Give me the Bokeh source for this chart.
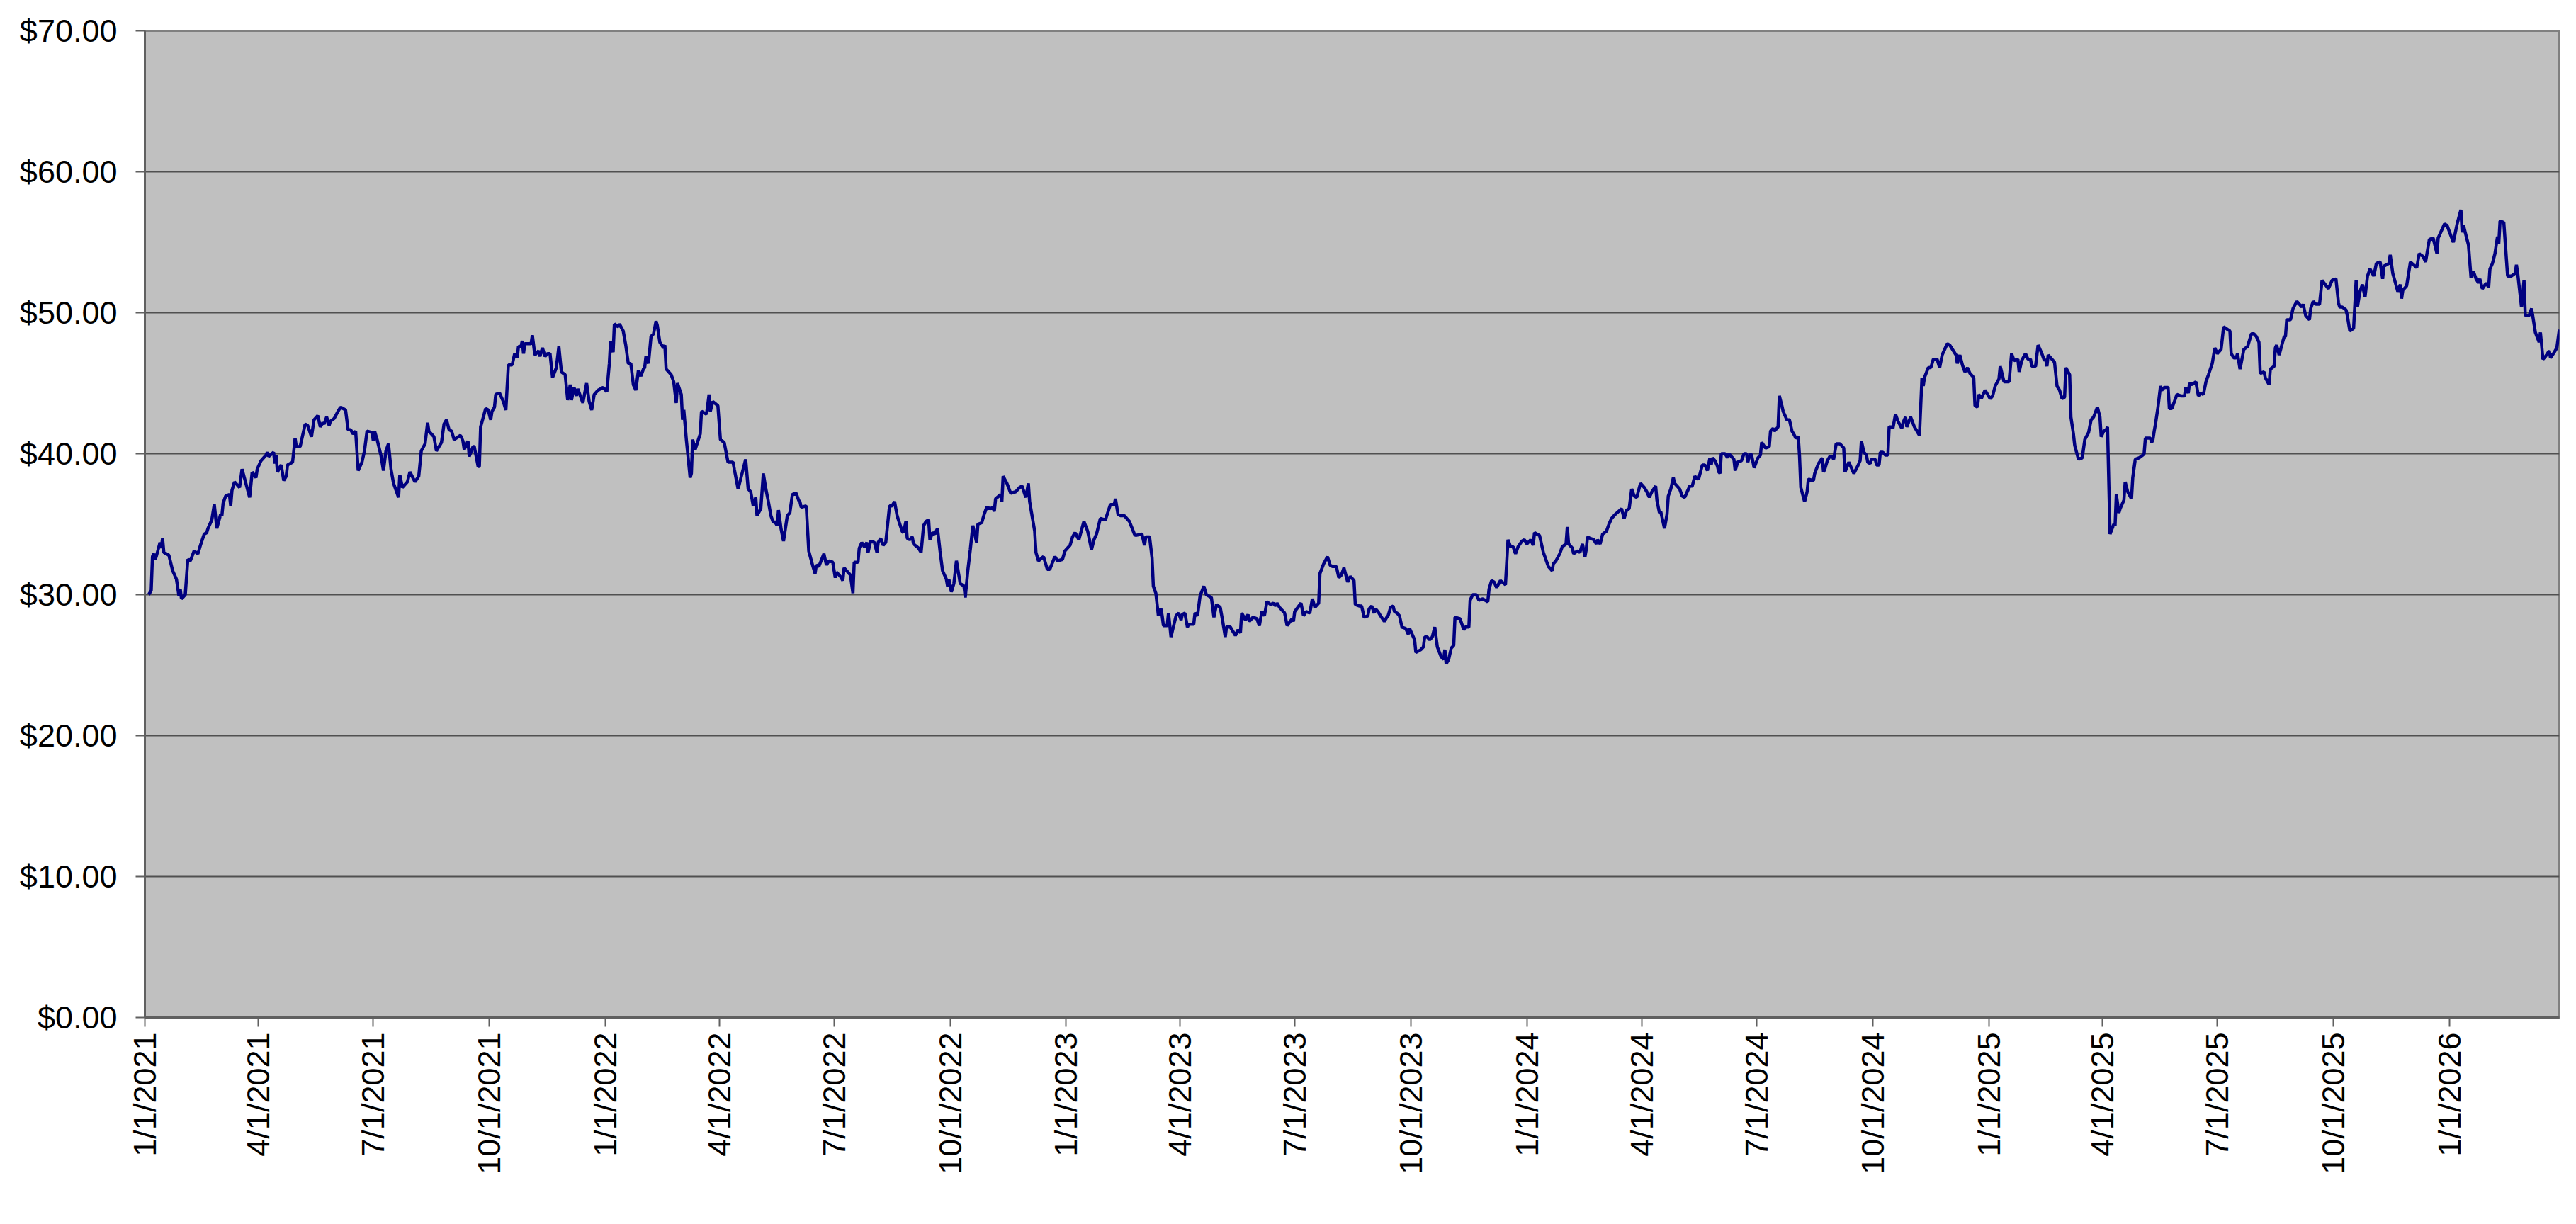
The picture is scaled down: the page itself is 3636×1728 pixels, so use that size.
import math
import pandas as pd
from bokeh.plotting import figure
from bokeh.models import Range1d, FixedTicker, DatetimeTickFormatter, NumeralTickFormatter
from bokeh.embed import file_html
from bokeh.resources import INLINE

# ---------------- data ----------------
START_DATE = "2021-01-01"   # day 0 of the series

# days since START_DATE / closing price, one pair of lists per period
days_a = [3, 5, 6, 7, 8, 9, 12, 13, 14, 15,
          19, 22, 25, 27, 28, 29, 32, 34, 36, 39,
          42, 44, 47, 49, 50, 53, 55, 57, 60, 61,
          62, 64, 67, 68, 69, 71, 75, 77, 80, 83,
          85, 88, 89, 92, 96, 97, 98, 102, 103, 104,
          105, 108, 110, 112, 113, 117, 118, 119, 120, 123,
          127, 129, 132, 134, 137, 139, 141, 142, 144, 146,
          147, 150, 153, 155, 159, 161, 163, 165, 167, 169,
          172, 174, 176, 180, 181, 182, 184, 187, 189, 191,
          193, 195, 197, 201, 202, 204, 208, 210, 214, 217,
          219, 222, 224, 225, 229, 231, 235, 237, 239, 241]
price_a = [30.0, 30.3, 32.7, 32.9, 32.5, 32.7, 33.7, 33.3, 34.0, 33.0,
           32.8, 31.7, 31.1, 29.9, 30.4, 29.7, 30.0, 32.5, 32.4, 33.1,
           32.9, 33.5, 34.3, 34.4, 34.7, 35.3, 36.4, 34.7, 35.7, 35.6,
           36.5, 37.0, 37.1, 36.3, 37.4, 38.0, 37.6, 38.9, 37.9, 36.9,
           38.7, 38.3, 38.9, 39.5, 39.9, 40.1, 39.8, 40.1, 39.3, 39.9,
           38.7, 39.2, 38.1, 38.4, 39.2, 39.4, 40.2, 41.1, 40.5, 40.5,
           42.1, 42.0, 41.2, 42.4, 42.7, 41.9, 42.2, 42.1, 42.6, 42.0,
           42.3, 42.5, 43.0, 43.3, 43.1, 41.7, 41.7, 41.4, 41.6, 38.8,
           39.4, 40.2, 41.6, 41.5, 40.9, 41.6, 41.0, 39.9, 38.8, 40.2,
           40.7, 38.9, 37.9, 36.9, 38.5, 37.6, 38.0, 38.7, 38.0, 38.4,
           40.2, 40.7, 42.2, 41.6, 41.2, 40.2, 40.8, 42.1, 42.4, 41.7]

days_b = [243, 245, 250, 252, 253, 256, 257, 260, 261, 264,
          265, 266, 270, 272, 274, 275, 277, 278, 281, 284,
          286, 288, 291, 293, 295, 296, 298, 299, 300, 301,
          306, 307, 309, 312, 313, 315, 317, 319, 321, 323,
          326, 328, 330, 333, 335, 337, 338, 340, 342, 343,
          345, 347, 350, 352, 354, 356, 359, 363, 366, 368,
          369, 371, 372, 375, 376, 379, 381, 383, 385, 387,
          389, 391, 393, 395, 396, 397, 399, 401, 403, 405,
          406, 408, 411, 412, 413, 417, 419, 421, 422, 425,
          426, 427, 429, 432, 433, 434, 436, 440, 441, 445,
          447, 448, 450, 454, 456, 459, 462, 464, 466, 467,
          470, 476, 478, 480]
price_b = [41.6, 41.0, 41.3, 40.9, 40.3, 40.9, 39.8, 40.5, 40.5, 39.1,
           39.1, 41.9, 43.2, 43.1, 42.4, 43.0, 43.3, 44.2, 44.3, 43.7,
           43.1, 46.3, 46.3, 47.1, 46.8, 47.6, 47.6, 48.0, 47.1, 47.8,
           47.8, 48.4, 47.0, 47.3, 46.9, 47.5, 46.9, 47.1, 47.1, 45.4,
           46.1, 47.6, 45.8, 45.6, 43.8, 44.9, 43.8, 44.7, 44.1, 44.6,
           44.1, 43.6, 45.0, 43.7, 43.1, 44.2, 44.5, 44.7, 44.4, 46.4,
           48.0, 47.2, 49.2, 49.0, 49.2, 48.7, 47.7, 46.4, 46.4, 44.9,
           44.5, 45.9, 45.5, 46.0, 46.1, 46.9, 46.4, 48.3, 48.5, 49.4,
           49.1, 47.9, 47.5, 47.7, 46.0, 45.6, 45.1, 43.6, 45.0, 44.2,
           42.4, 43.1, 41.0, 38.3, 38.6, 41.0, 40.3, 41.4, 43.0, 42.8,
           44.2, 43.0, 43.7, 43.4, 41.0, 40.8, 39.4, 39.4, 39.4, 38.9,
           37.5, 39.6, 37.5, 37.3]

days_c = [482, 484, 485, 488, 490, 492, 494, 496, 498, 499,
          501, 502, 504, 506, 509, 511, 513, 516, 518, 519,
          520, 524, 526, 529, 531, 532, 534, 538, 540, 542,
          545, 547, 548, 551, 553, 554, 559, 561, 562, 565,
          566, 568, 570, 572, 573, 575, 578, 580, 581, 583,
          585, 587, 590, 592, 594, 596, 600, 601, 603, 604,
          606, 608, 609, 613, 615, 617, 619, 621, 622, 624,
          626, 628, 630, 632, 635, 636, 637, 639, 641, 643,
          646, 649, 650, 652, 654, 656, 658, 659, 660, 663,
          665, 667, 670, 672, 673, 674, 678, 679, 680, 683,
          686, 690, 693, 695, 698, 700, 701, 705, 706, 708,
          712, 715, 717, 721, 723]
price_c = [36.3, 36.9, 35.6, 36.1, 38.6, 37.5, 36.6, 35.6, 35.1, 35.2,
           34.9, 36.0, 34.7, 33.8, 35.6, 35.8, 37.1, 37.2, 36.7, 36.6,
           36.2, 36.3, 33.1, 32.1, 31.5, 32.1, 32.0, 32.9, 32.1, 32.4,
           32.3, 31.2, 31.6, 31.3, 31.0, 31.9, 31.4, 30.1, 32.3, 32.3,
           33.3, 33.7, 33.4, 33.7, 33.0, 33.8, 33.7, 33.0, 33.7, 34.0,
           33.5, 33.7, 36.3, 36.3, 36.6, 35.6, 34.5, 34.4, 35.2, 34.0,
           33.9, 34.1, 33.6, 33.3, 33.0, 34.9, 35.2, 35.3, 33.9, 34.4,
           34.3, 34.7, 33.1, 31.7, 31.1, 30.6, 31.1, 30.2, 30.8, 32.4,
           30.8, 30.6, 29.8, 31.7, 33.2, 34.9, 34.1, 33.7, 35.0, 35.1,
           35.7, 36.2, 36.1, 36.2, 35.9, 36.8, 37.1, 36.6, 38.4, 37.9,
           37.2, 37.3, 37.6, 37.7, 36.9, 37.9, 36.6, 34.5, 33.0, 32.4,
           32.7, 31.8, 31.8, 32.7, 32.4]

days_d = [727, 729, 733, 735, 737, 740, 744, 747, 750, 752,
          754, 757, 761, 765, 768, 769, 771, 773, 776, 780,
          784, 785, 790, 792, 793, 796, 798, 799, 801, 803,
          805, 806, 807, 810, 811, 813, 814, 817, 819, 821,
          822, 824, 826, 827, 831, 832, 834, 836, 839, 841,
          845, 847, 849, 852, 854, 856, 857, 860, 864, 866,
          868, 869, 872, 874, 875, 878, 881, 883, 885, 887,
          889, 892, 894, 896, 897, 899, 903, 905, 909, 910,
          911, 916, 918, 920, 923, 925, 927, 930, 931, 934,
          937, 939, 941, 944, 946, 948, 950, 953, 955, 958,
          959, 962, 964, 966]
price_d = [32.5, 33.1, 33.5, 34.1, 34.4, 33.9, 35.2, 34.5, 33.2, 33.9,
           34.3, 35.4, 35.3, 36.4, 36.4, 36.8, 35.7, 35.6, 35.6, 35.2,
           34.3, 34.2, 34.3, 33.5, 34.1, 34.1, 32.6, 30.6, 30.1, 28.5,
           29.0, 28.5, 27.8, 27.8, 28.7, 27.0, 27.4, 28.5, 28.7, 28.2,
           28.6, 28.7, 27.7, 27.9, 27.9, 28.7, 28.5, 29.9, 30.6, 30.0,
           29.8, 28.4, 29.3, 29.1, 28.1, 27.0, 27.7, 27.7, 27.1, 27.5,
           27.3, 28.7, 28.2, 28.6, 28.1, 28.4, 28.3, 27.8, 28.8, 28.5,
           29.5, 29.3, 29.4, 29.2, 29.4, 29.1, 28.7, 27.8, 28.3, 28.1,
           28.8, 29.4, 28.5, 28.8, 28.7, 29.7, 29.1, 29.4, 31.5, 32.2,
           32.7, 32.1, 32.0, 32.0, 31.2, 31.4, 31.9, 30.9, 31.3, 31.0,
           29.3, 29.2, 29.2, 28.4]

days_e = [969, 970, 972, 974, 975, 977, 979, 982, 984, 985,
          987, 989, 990, 992, 994, 996, 999, 1001, 1002, 1006,
          1007, 1011, 1013, 1014, 1016, 1018, 1020, 1022, 1024, 1027,
          1029, 1030, 1031, 1033, 1035, 1037, 1038, 1042, 1045, 1046,
          1049, 1050, 1052, 1055, 1057, 1060, 1064, 1065, 1067, 1069,
          1071, 1074, 1078, 1080, 1082, 1084, 1086, 1088, 1091, 1093,
          1095, 1098, 1100, 1101, 1105, 1108, 1110, 1112, 1115, 1116,
          1118, 1121, 1123, 1126, 1127, 1128, 1131, 1132, 1135, 1137,
          1139, 1141, 1142, 1143, 1145, 1148, 1150, 1151, 1153, 1155,
          1158, 1160, 1162, 1165, 1170, 1172, 1174, 1176, 1178, 1180,
          1182, 1185, 1188, 1190, 1192, 1194, 1197, 1198, 1200, 1201,
          1204, 1206, 1207]
price_e = [28.5, 29.0, 29.2, 28.7, 29.0, 28.8, 28.5, 28.1, 28.4, 28.5,
           29.1, 29.2, 28.8, 28.7, 28.5, 27.7, 27.6, 27.2, 27.6, 26.8,
           25.9, 26.1, 26.3, 27.0, 27.0, 26.8, 27.0, 27.7, 26.3, 25.6,
           25.4, 26.1, 25.1, 25.4, 26.2, 26.4, 28.4, 28.3, 27.5, 27.7,
           27.7, 29.6, 30.0, 30.0, 29.6, 29.7, 29.5, 30.4, 31.0, 30.9,
           30.5, 31.0, 30.7, 33.9, 33.4, 33.4, 32.9, 33.4, 33.8, 33.9,
           33.6, 33.9, 33.5, 34.4, 34.2, 33.0, 32.5, 32.0, 31.7, 32.2,
           32.4, 32.9, 33.4, 33.6, 34.8, 33.6, 33.3, 32.9, 33.1, 33.0,
           33.6, 32.7, 33.2, 34.1, 34.0, 33.9, 33.6, 33.9, 33.6, 34.3,
           34.5, 35.0, 35.4, 35.7, 36.1, 35.4, 36.0, 36.1, 37.5, 37.0,
           36.9, 37.9, 37.6, 37.3, 36.9, 37.3, 37.7, 36.7, 35.8, 35.9,
           34.7, 35.7, 37.0]

days_f = [1209, 1211, 1212, 1214, 1216, 1218, 1220, 1222, 1224, 1226,
          1228, 1229, 1231, 1234, 1236, 1238, 1240, 1241, 1242, 1244,
          1246, 1247, 1248, 1249, 1252, 1254, 1255, 1258, 1259, 1260,
          1262, 1265, 1267, 1269, 1270, 1272, 1273, 1275, 1278, 1280,
          1281, 1284, 1287, 1288, 1290, 1291, 1294, 1295, 1297, 1298,
          1301, 1303, 1305, 1307, 1308, 1310, 1311, 1312, 1315, 1317,
          1318, 1322, 1323, 1326, 1329, 1330, 1331, 1333, 1335, 1337,
          1338, 1340, 1343, 1346, 1347, 1350, 1352, 1354, 1357, 1359,
          1360, 1362, 1364, 1365, 1367, 1368, 1371, 1372, 1374, 1375,
          1377, 1379, 1381, 1382, 1384, 1385, 1387, 1389, 1392, 1393,
          1395, 1396, 1399, 1402, 1404, 1406, 1408, 1409, 1410, 1413,
          1415, 1417, 1420, 1422, 1424, 1426, 1428, 1430, 1435, 1436,
          1438, 1440, 1442, 1444]
price_f = [37.5, 38.3, 37.9, 37.7, 37.5, 37.0, 36.9, 37.3, 37.7, 37.7,
           38.4, 38.3, 38.2, 39.2, 39.2, 38.8, 39.7, 39.2, 39.7, 39.5,
           39.1, 38.7, 38.6, 40.0, 40.0, 39.7, 40.0, 39.7, 39.6, 38.8,
           39.4, 39.5, 40.0, 40.0, 39.4, 40.0, 39.9, 39.0, 39.7, 39.9,
           40.8, 40.4, 40.5, 41.6, 41.8, 41.6, 41.9, 44.1, 43.4, 43.0,
           42.4, 42.4, 41.6, 41.3, 41.1, 41.2, 39.8, 37.6, 36.6, 37.3,
           38.2, 38.1, 38.6, 39.3, 39.7, 38.7, 38.9, 39.5, 39.8, 39.8,
           39.6, 40.7, 40.7, 40.4, 38.7, 39.4, 39.0, 38.6, 39.1, 39.5,
           40.9, 40.1, 39.9, 39.4, 39.3, 39.6, 39.6, 39.2, 39.2, 40.1,
           40.1, 39.9, 39.9, 41.9, 41.9, 41.8, 42.8, 42.3, 41.8, 42.2,
           42.6, 41.9, 42.6, 41.9, 41.6, 41.3, 45.4, 44.8, 45.4, 46.1,
           46.1, 46.7, 46.7, 46.1, 47.0, 47.4, 47.8, 47.7, 47.0, 46.4,
           47.0, 46.3, 45.8, 46.1]

days_g = [1446, 1447, 1449, 1450, 1452, 1453, 1455, 1458, 1462, 1464,
          1466, 1469, 1470, 1473, 1477, 1479, 1481, 1484, 1485, 1487,
          1490, 1492, 1494, 1495, 1498, 1500, 1503, 1505, 1506, 1507,
          1508, 1510, 1513, 1515, 1517, 1519, 1521, 1522, 1525, 1526,
          1528, 1529, 1532, 1535, 1537, 1540, 1542, 1544, 1547, 1549,
          1550, 1552, 1554, 1555, 1557, 1560, 1561, 1562, 1564, 1565,
          1568, 1569, 1571, 1574, 1575, 1577, 1580, 1583, 1584, 1585,
          1589, 1590, 1591, 1592, 1593, 1595, 1597, 1598, 1600, 1603,
          1604, 1606, 1610, 1613, 1616, 1617, 1619, 1620, 1622, 1625,
          1627, 1629, 1631, 1633, 1635, 1638, 1640, 1642, 1645, 1647,
          1652, 1653, 1655, 1657, 1658, 1660, 1663, 1666, 1669, 1671,
          1673, 1675, 1676, 1679, 1680, 1683]
price_g = [45.7, 45.6, 45.4, 43.4, 43.3, 44.2, 43.9, 44.5, 43.9, 44.1,
           44.8, 45.3, 46.2, 45.1, 45.1, 47.1, 46.6, 46.7, 45.8, 46.6,
           47.1, 46.7, 46.7, 46.2, 46.2, 47.7, 47.1, 46.6, 46.7, 46.2,
           47.0, 46.8, 46.5, 44.8, 44.5, 43.9, 44.0, 46.1, 45.6, 42.6,
           41.4, 40.6, 39.6, 39.7, 41.0, 41.5, 42.4, 42.6, 43.3, 42.6,
           41.2, 41.6, 41.7, 41.9, 34.3, 35.0, 34.9, 37.1, 35.8, 36.1,
           36.7, 38.0, 37.3, 36.8, 38.3, 39.6, 39.7, 39.9, 40.0, 41.1,
           41.1, 40.8, 41.0, 41.6, 42.1, 43.3, 44.8, 44.5, 44.7, 44.7,
           43.2, 43.2, 44.2, 44.1, 44.1, 44.7, 44.3, 45.0, 44.9, 45.1,
           44.1, 44.3, 44.2, 45.1, 45.6, 46.4, 47.5, 47.1, 47.4, 49.0,
           48.7, 47.1, 46.8, 46.8, 47.1, 46.0, 47.4, 47.6, 48.5, 48.5,
           48.3, 47.9, 45.7, 45.8, 45.4, 44.9]

days_h = [1684, 1687, 1688, 1689, 1691, 1694, 1695, 1696, 1697, 1700,
          1702, 1705, 1709, 1710, 1712, 1715, 1716, 1718, 1720, 1723,
          1725, 1730, 1733, 1736, 1738, 1739, 1741, 1744, 1745, 1747,
          1750, 1752, 1753, 1755, 1757, 1759, 1761, 1763, 1766, 1768,
          1771, 1773, 1774, 1778, 1779, 1781, 1785, 1787, 1788, 1789,
          1792, 1795, 1800, 1802, 1803, 1805, 1807, 1810, 1813, 1816,
          1817, 1822, 1824, 1829, 1832, 1835, 1836, 1837, 1841, 1843,
          1845, 1847, 1849, 1850, 1852, 1855, 1857, 1858, 1860, 1862,
          1864, 1865, 1866, 1869, 1872, 1875, 1878, 1879, 1880, 1883,
          1885, 1886, 1889, 1891, 1894, 1897, 1898, 1900, 1902, 1905,
          1906, 1909, 1911, 1913]
price_h = [46.0, 46.2, 47.5, 47.7, 47.0, 48.0, 48.3, 48.3, 49.5, 49.5,
           50.3, 50.8, 50.4, 50.6, 49.8, 49.5, 50.3, 50.8, 50.6, 50.6,
           52.3, 51.7, 52.3, 52.4, 50.7, 50.4, 50.4, 50.2, 49.8, 48.7,
           48.9, 52.3, 50.4, 51.5, 52.0, 51.1, 52.6, 53.1, 52.6, 53.5,
           53.6, 52.4, 53.3, 53.5, 54.1, 52.8, 51.5, 52.0, 51.0, 51.6,
           51.9, 53.6, 53.2, 54.2, 54.1, 54.0, 53.6, 55.2, 55.3, 54.2,
           55.3, 56.3, 56.2, 55.0, 56.3, 57.3, 55.7, 56.2, 54.8, 52.5,
           52.9, 52.4, 52.1, 52.4, 51.7, 52.1, 51.8, 53.1, 53.5, 54.2,
           55.4, 54.9, 56.5, 56.4, 52.6, 52.6, 52.8, 53.4, 52.8, 50.4,
           52.3, 49.8, 49.8, 50.3, 48.6, 47.9, 48.6, 46.7, 46.9, 47.3,
           46.8, 47.2, 47.5, 48.8]

x_tick_dates = ["2021-01-01", "2021-04-01", "2021-07-01", "2021-10-01",
                "2022-01-01", "2022-04-01", "2022-07-01", "2022-10-01",
                "2023-01-01", "2023-04-01", "2023-07-01", "2023-10-01",
                "2024-01-01", "2024-04-01", "2024-07-01", "2024-10-01",
                "2025-01-01", "2025-04-01", "2025-07-01", "2025-10-01",
                "2026-01-01"]
y_ticks = [0, 10, 20, 30, 40, 50, 60, 70]

# ---------------- assemble ----------------
all_days = days_a + days_b + days_c + days_d + days_e + days_f + days_g + days_h
all_prices = price_a + price_b + price_c + price_d + price_e + price_f + price_g + price_h
assert len(all_days) == len(all_prices)

start = pd.Timestamp(START_DATE)
dates = start + pd.to_timedelta(all_days, unit="D")

FONT = "Liberation Sans"

p = figure(width=3620, height=1700, x_axis_type="datetime",
           output_backend="svg", toolbar_location=None,
           x_range=Range1d(start, dates[-1]), y_range=Range1d(0, 70),
           min_border_left=204, min_border_right=8,
           min_border_top=43, min_border_bottom=264)

p.background_fill_color = "#C0C0C0"
p.border_fill_color = "white"
p.outline_line_color = "#808080"
p.outline_line_width = 3

p.line(dates, all_prices, line_color="#000080", line_width=4.5)

# y axis
p.yaxis.ticker = FixedTicker(ticks=y_ticks)
p.yaxis.formatter = NumeralTickFormatter(format="$0.00")
p.ygrid.ticker = FixedTicker(ticks=y_ticks)
p.ygrid.grid_line_color = "#505050"
p.ygrid.grid_line_width = 2
p.xgrid.visible = False

# x axis
tick_ms = [pd.Timestamp(d).value // 10**6 for d in x_tick_dates]
p.xaxis.ticker = FixedTicker(ticks=tick_ms)
fmt = "%-m/%-d/%Y"
p.xaxis.formatter = DatetimeTickFormatter(
    milliseconds=fmt, seconds=fmt, minsec=fmt, minutes=fmt, hourmin=fmt,
    hours=fmt, days=fmt, months=fmt, years=fmt)
p.xaxis.major_label_orientation = math.pi / 2

for ax in (p.xaxis[0], p.yaxis[0]):
    ax.axis_line_color = "#606060"
    ax.axis_line_width = 3
    ax.major_tick_line_color = "#606060"
    ax.major_tick_line_width = 2
    ax.major_tick_out = 13
    ax.major_tick_in = 0
    ax.minor_tick_line_color = None
    ax.major_label_text_font = FONT
    ax.major_label_text_font_size = "45px"
    ax.major_label_text_color = "black"

p.yaxis.major_label_standoff = 26
p.xaxis.major_label_standoff = 8

open("out.html", "w").write(file_html(p, INLINE))
